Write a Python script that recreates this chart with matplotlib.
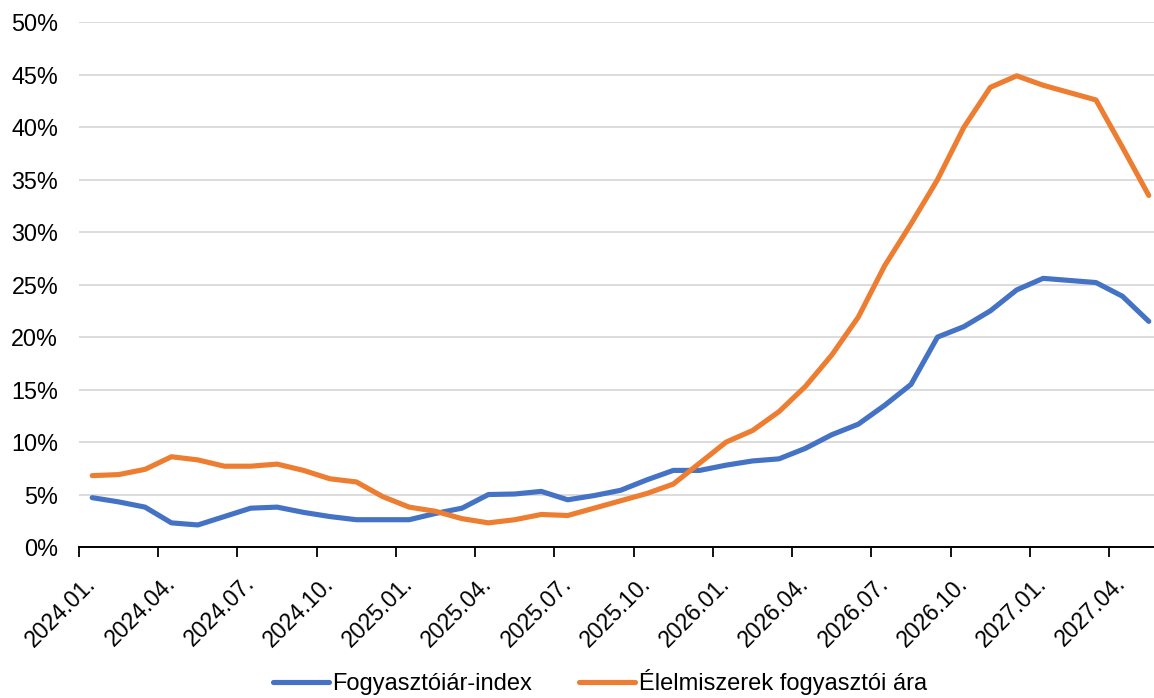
import matplotlib
matplotlib.use("Agg")
from matplotlib import pyplot as plt
from matplotlib import font_manager as fm
from matplotlib import transforms
import numpy as np

# monthly data, 2024.01 - 2027.05
months = ["%d.%02d." % (2024 + i // 12, i % 12 + 1) for i in range(41)]
cpi = [4.7, 4.3, 3.8, 2.3, 2.1, 2.9, 3.7, 3.8, 3.3, 2.9, 2.6, 2.6, 2.6,
       3.2, 3.7, 5.0, 5.05, 5.3, 4.5, 4.9, 5.4, 6.4, 7.3, 7.3, 7.8,
       8.2, 8.4, 9.4, 10.7, 11.7, 13.5, 15.5, 20.0, 21.0,
       22.5, 24.5, 25.6, 25.4, 25.2, 23.9, 21.5]
food = [6.8, 6.9, 7.4, 8.6, 8.3, 7.7, 7.7, 7.9, 7.3, 6.5, 6.2, 4.8, 3.8,
        3.4, 2.7, 2.3, 2.6, 3.1, 3.0, 3.7, 4.4, 5.1, 6.0, 8.0, 10.0,
        11.1, 12.9, 15.3, 18.3, 21.9, 26.8, 30.8, 35.0, 40.0,
        43.8, 44.9, 44.0, 43.3, 42.6, 38.1, 33.5]
series_names = ["Fogyasztóiár-index", "Élelmiszerek fogyasztói ára"]
colors = ["#4472C4", "#ED7D31"]

names = {f.name for f in fm.fontManager.ttflist}
main_font = "Liberation Sans" if "Liberation Sans" in names else "DejaVu Sans"
plt.rcParams["font.family"] = [main_font, "DejaVu Sans"]

fig = plt.figure(figsize=(11.54, 6.98), dpi=100)
ax = fig.add_axes([79 / 1154, 1 - 547 / 698, (1162 - 79) / 1154, (547 - 22.3) / 698])

x = np.arange(len(months))
ax.plot(x, cpi, color=colors[0], lw=3.7, solid_capstyle="round", solid_joinstyle="round",
        label=series_names[0], zorder=3)
ax.plot(x, food, color=colors[1], lw=3.7, solid_capstyle="round", solid_joinstyle="round",
        label=series_names[1], zorder=3)

ax.set_xlim(-0.5, len(months) - 0.5)
ax.set_ylim(0, 50)
ax.set_yticks(np.arange(0, 51, 5))
ax.set_yticklabels(["%d%%" % v for v in range(0, 51, 5)], fontsize=16.8)
ax.yaxis.grid(True, color="#D9D9D9", lw=1.3)
ax.set_axisbelow(True)
ax.tick_params(axis="y", length=0, pad=15)

# tick marks between categories, labels on categories
ax.set_xticks(np.arange(-0.5, len(months), 3))
ax.set_xticklabels([])
ax.tick_params(axis="x", which="major", length=7, width=1.3, color="black", direction="out")
ax.set_xticks(x[::3], minor=True)
ax.set_xticklabels(months[::3], minor=True, rotation=45, ha="right",
                   rotation_mode="anchor", fontsize=16.5)
ax.tick_params(axis="x", which="minor", length=0, pad=18)
shift = transforms.ScaledTranslation(-8 / 100, 0, fig.dpi_scale_trans)
for lab in ax.get_xticklabels(minor=True):
    lab.set_transform(lab.get_transform() + shift)

for s in ["top", "right", "left"]:
    ax.spines[s].set_visible(False)
ax.spines["bottom"].set_color("black")
ax.spines["bottom"].set_linewidth(1.4)
ax.spines["bottom"].set_zorder(4)

fig.legend(loc="center", bbox_to_anchor=(600 / 1154, 1 - 682 / 698), ncol=2,
           frameon=False, handlelength=2.35, handletextpad=0.15, columnspacing=2.0,
           borderpad=0.2, prop={"size": 17})

fig.savefig("out.png", dpi=100)
